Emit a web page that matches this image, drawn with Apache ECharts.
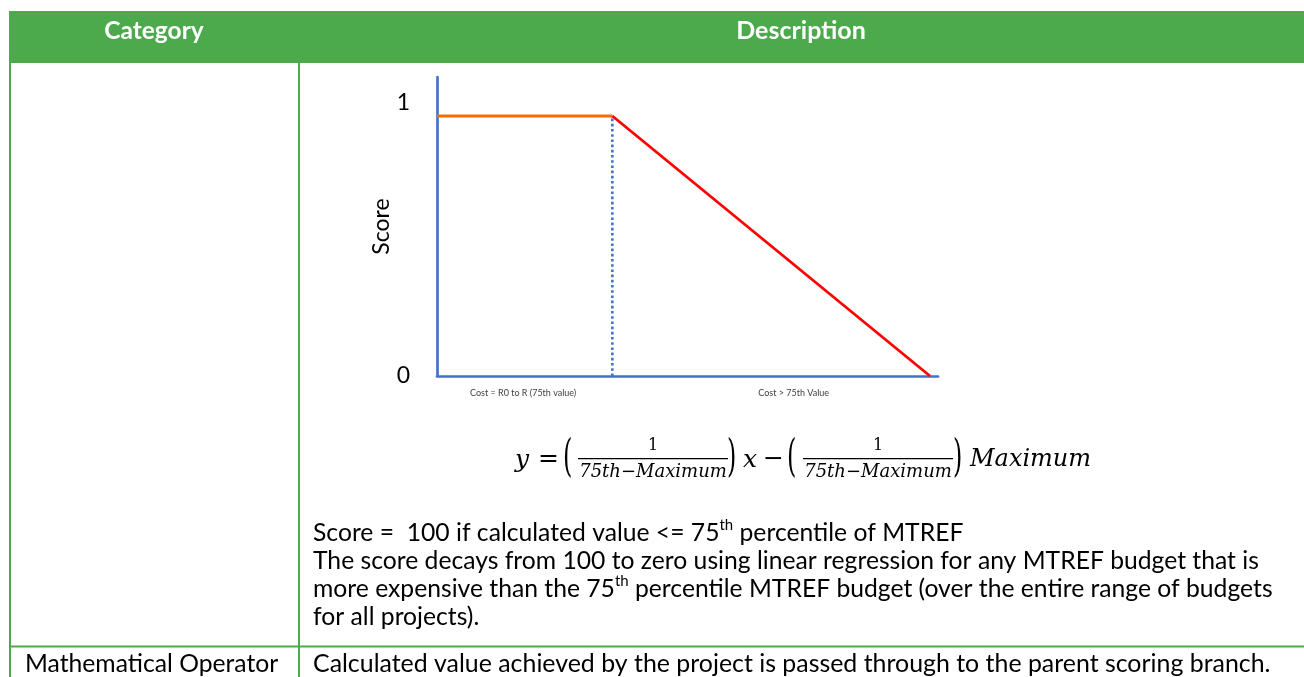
<!DOCTYPE html>
<html>
<head>
<meta charset="utf-8">
<script src="https://cdn.jsdelivr.net/npm/echarts@6/dist/echarts.min.js"></script>
<style>
html,body{margin:0;padding:0;background:#fff;}
#chart{width:1304px;height:677px;}
</style>
</head>
<body>
<div id="chart"></div>
<script>
// ---- data ----
const headerLabels = ['Category', 'Description'];
const flatSeries = [[0, 1], [35, 1]];          // score = 1 up to 75th value
const decaySeries = [[35, 1], [98.4, 0]];      // linear decay to zero at maximum
const guideSeries = [[35, 0], [35, 1]];        // dotted guide at 75th value
const xTickPositions = [17.2, 71.2];
const xTickLabels = ['Cost = R0 to R (75th value)', 'Cost > 75th Value'];
const yTickPositions = [0, 1.05];
const yTickLabels = ['0', '1'];
const paragraphLines = [
  [['n', 'Score =  100 if calculated value <= 75'], ['s', 'th'], ['n', ' percentile of MTREF']],
  [['n', 'The score decays from 100 to zero using linear regression for any MTREF budget that is']],
  [['n', 'more expensive than the 75'], ['s', 'th'], ['n', ' percentile MTREF budget (over the entire range of budgets']],
  [['n', 'for all projects).']]
];
const row2Category = 'Mathematical Operator';
const row2Description = 'Calculated value achieved by the project is passed through to the parent scoring branch.';

// ---- styles ----
const GREEN = '#4CAA4D';
const BLUE = '#4472C4';
const FONT = 'Lato, "Open Sans", sans-serif';
const MATH = '"DejaVu Serif", serif';

const chart = echarts.init(document.getElementById('chart'));

function richLine(parts) {
  return parts.map(p => '{' + p[0] + '|' + p[1] + '}').join('');
}
const paraRich = {
  n: {fontFamily: FONT, fontSize: 24.7, lineHeight: 30, color: '#000'},
  s: {fontFamily: FONT, fontSize: 15, lineHeight: 15, color: '#000', verticalAlign: 'top'}
};

const graphics = [
  {type: 'rect', shape: {x: 9, y: 11, width: 1295, height: 52}, style: {fill: GREEN}, silent: true},
  {type: 'rect', shape: {x: 9, y: 62, width: 2, height: 615}, style: {fill: GREEN}, silent: true},
  {type: 'rect', shape: {x: 298, y: 62, width: 2, height: 615}, style: {fill: GREEN}, silent: true},
  {type: 'rect', shape: {x: 9, y: 645.5, width: 1295, height: 2}, style: {fill: GREEN}, silent: true},
  {type: 'text', style: {x: 154, y: 31, text: headerLabels[0], font: 'bold 24.5px ' + FONT, fill: '#fff', textAlign: 'center', textVerticalAlign: 'middle'}},
  {type: 'text', style: {x: 801, y: 31, text: headerLabels[1], font: 'bold 25px ' + FONT, fill: '#fff', textAlign: 'center', textVerticalAlign: 'middle'}},
  {type: 'text', style: {x: 25, y: 664, text: row2Category, font: '24.7px ' + FONT, fill: '#000', textAlign: 'left', textVerticalAlign: 'middle'}},
  {type: 'text', style: {x: 313, y: 664, text: row2Description, font: '24.9px ' + FONT, fill: '#000', textAlign: 'left', textVerticalAlign: 'middle'}}
];
const lineYs = [533, 561, 589, 617];
paragraphLines.forEach((parts, i) => {
  graphics.push({type: 'text', style: {x: 313, y: lineYs[i], text: richLine(parts), rich: paraRich, textAlign: 'left', textVerticalAlign: 'middle'}});
});

// formula pieces
function mtext(x, y, t, size, align) {
  return {type: 'text', style: {x: x, y: y, text: t, font: 'italic ' + size + 'px ' + MATH, fill: '#000', textAlign: align || 'left', textVerticalAlign: 'middle'}};
}
function utext(x, y, t, size, align, sy) {
  return {type: 'text', scaleX: 1, scaleY: sy || 1, originX: x, originY: y, style: {x: x, y: y, text: t, font: size + 'px ' + MATH, fill: '#000', textAlign: align || 'left', textVerticalAlign: 'middle'}};
}
const FY = 459;
graphics.push(mtext(515, FY + 1, 'y', 25));
graphics.push(utext(538, FY, '=', 25));
graphics.push(utext(563, FY, '(', 24, 'left', 1.9));
graphics.push(utext(653, FY - 13, '1', 16, 'center'));
graphics.push({type: 'rect', shape: {x: 578, y: FY - 1, width: 150, height: 1.3}, style: {fill: '#000'}});
graphics.push(mtext(653, FY + 13, '75th\u2212Maximum', 18, 'center'));
graphics.push(utext(727, FY, ')', 24, 'left', 1.9));
graphics.push(mtext(743, FY + 1, 'x', 25));
graphics.push(utext(763, FY, '\u2212', 25));
graphics.push(utext(787, FY, '(', 24, 'left', 1.9));
graphics.push(utext(878, FY - 13, '1', 16, 'center'));
graphics.push({type: 'rect', shape: {x: 803, y: FY - 1, width: 150, height: 1.3}, style: {fill: '#000'}});
graphics.push(mtext(878, FY + 13, '75th\u2212Maximum', 18, 'center'));
graphics.push(utext(953, FY, ')', 24, 'left', 1.9));
graphics.push(mtext(970, FY + 1, 'Maximum', 24));

const option = {
  animation: false,
  backgroundColor: '#fff',
  grid: {left: 437, right: 366, top: 77, bottom: 301, containLabel: false},
  xAxis: {
    type: 'value', min: 0, max: 100,
    axisLine: {show: true, lineStyle: {color: BLUE, width: 2.7}},
    axisTick: {show: false},
    splitLine: {show: false},
    axisLabel: {
      customValues: xTickPositions,
      formatter: v => { const i = xTickPositions.findIndex(p => Math.abs(p - v) < 1e-6); return i >= 0 ? xTickLabels[i] : ''; },
      fontSize: 9, fontFamily: FONT, color: '#404040', margin: 13
    }
  },
  yAxis: {
    type: 'value', min: 0, max: 1.15,
    name: 'Score', nameLocation: 'middle', nameGap: 39,
    nameTextStyle: {fontSize: 23, fontFamily: FONT, color: '#000'},
    axisLine: {show: true, lineStyle: {color: BLUE, width: 2.7}},
    axisTick: {show: false},
    splitLine: {show: false},
    axisLabel: {
      customValues: yTickPositions,
      formatter: v => { const i = yTickPositions.findIndex(p => Math.abs(p - v) < 1e-6); return i >= 0 ? yTickLabels[i] : ''; },
      fontSize: 23, fontFamily: FONT, color: '#000', margin: 27
    }
  },
  series: [
    {type: 'line', data: guideSeries, symbol: 'none', lineStyle: {color: BLUE, width: 2.6, type: [2.6, 2.6]}, z: 1},
    {type: 'line', data: flatSeries, symbol: 'none', lineStyle: {color: '#FF6A00', width: 3}, z: 3},
    {type: 'line', data: decaySeries, symbol: 'none', lineStyle: {color: '#FF0000', width: 2.8}, z: 3}
  ],
  graphic: graphics
};
chart.setOption(option);
</script>
</body>
</html>
